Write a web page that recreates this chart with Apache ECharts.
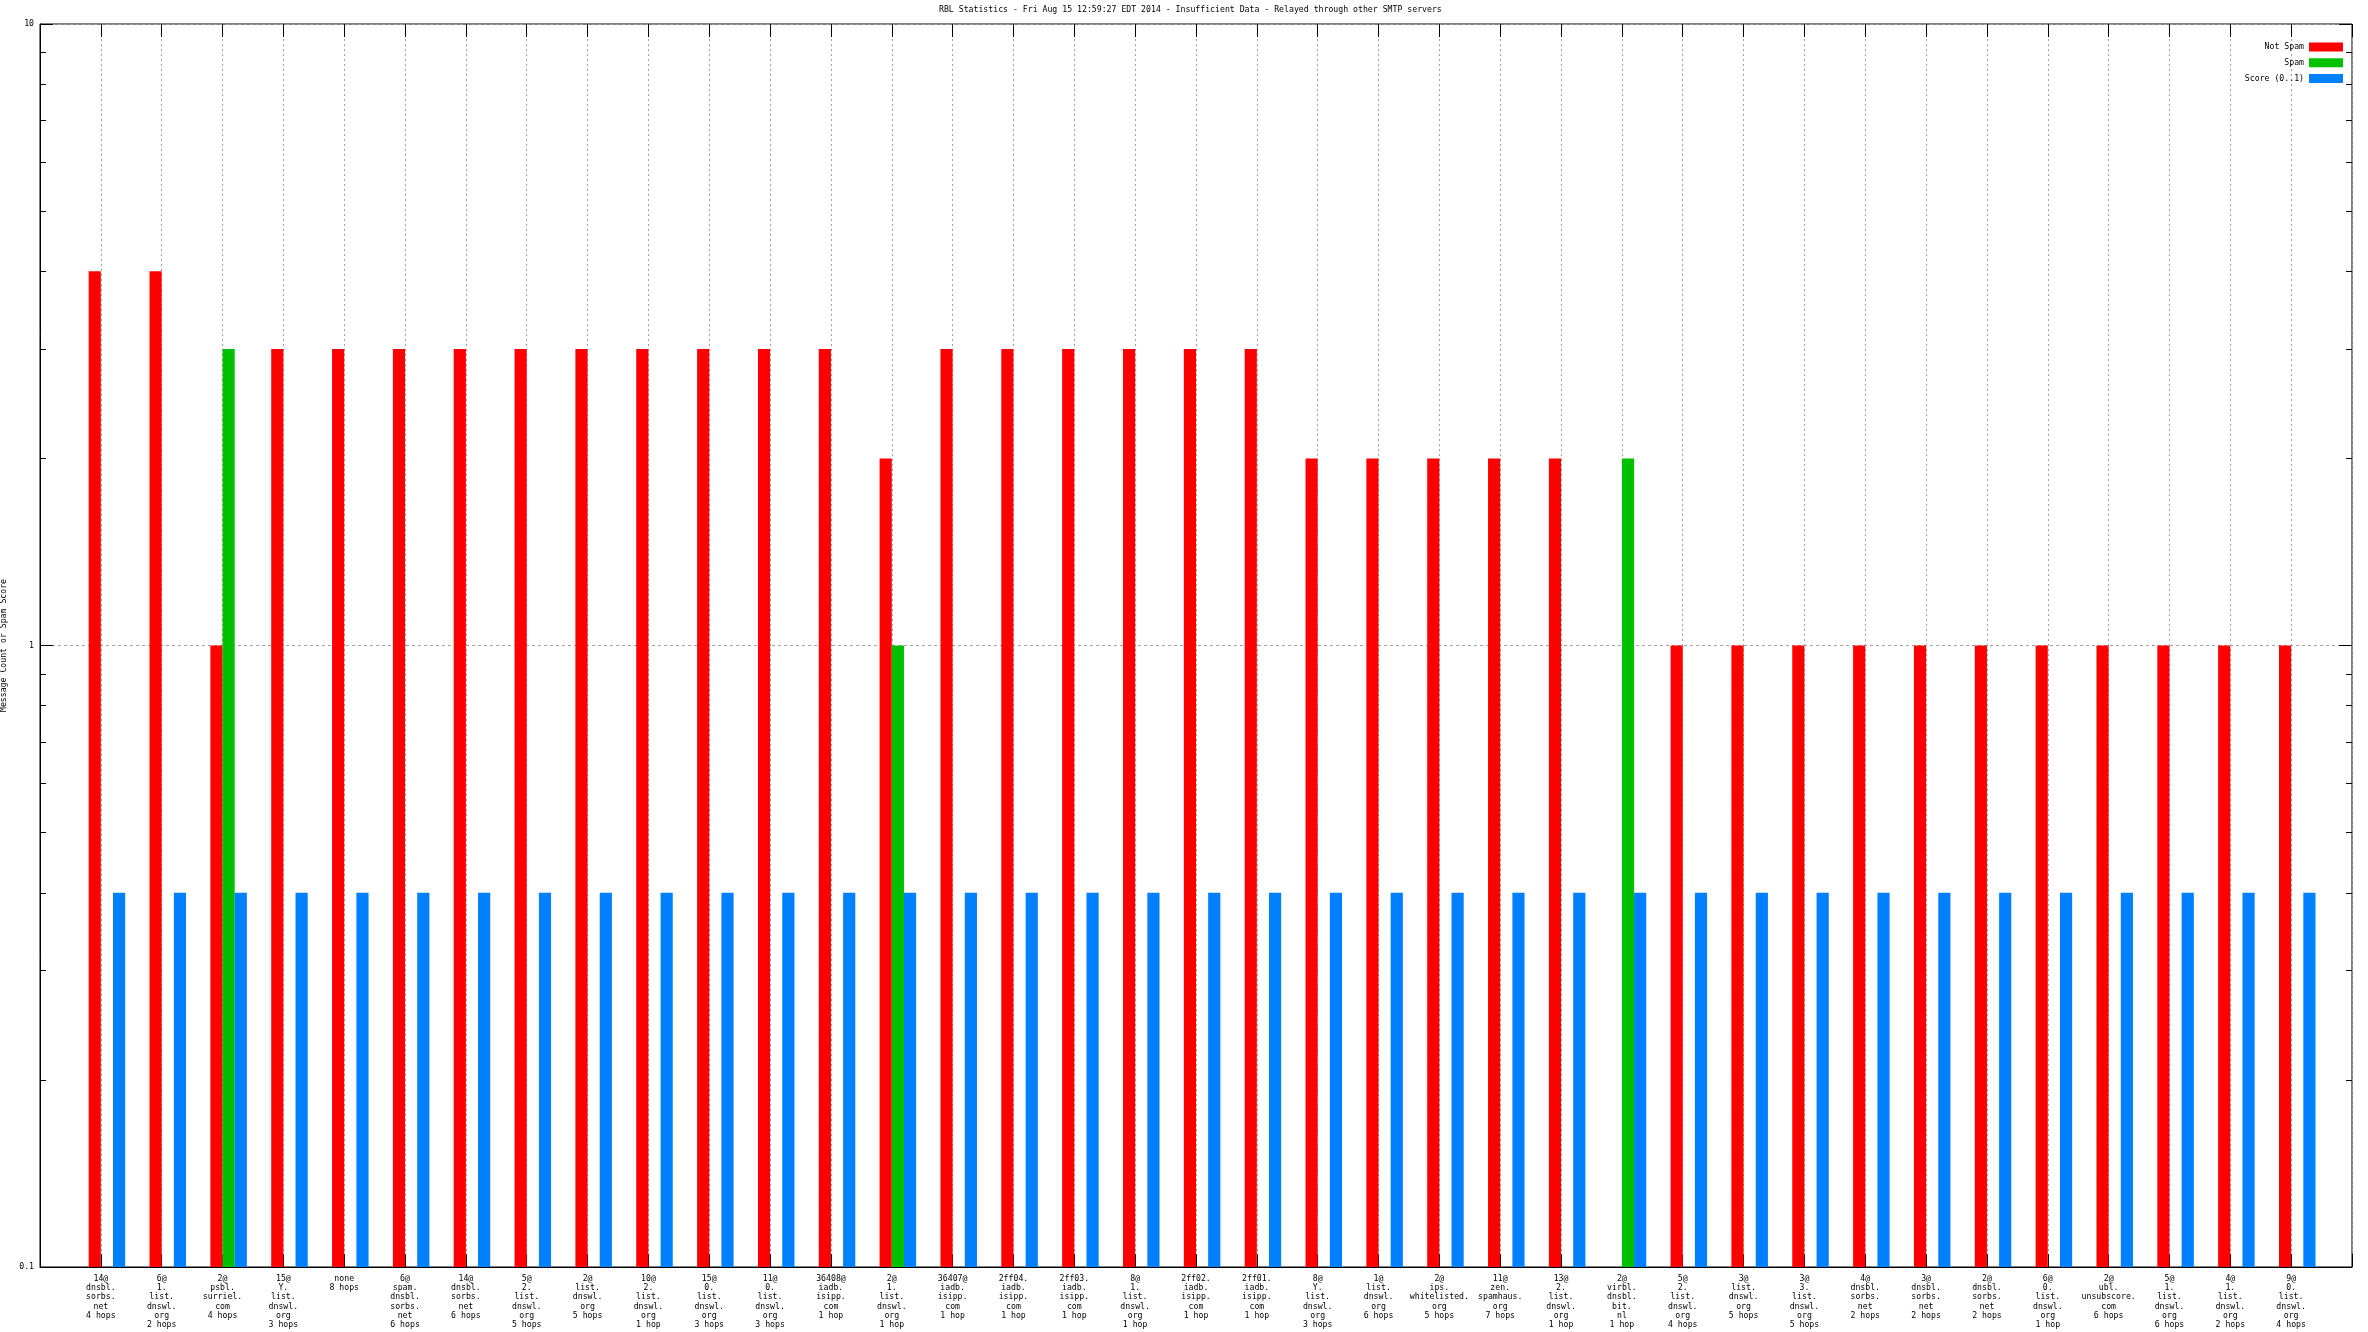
<!DOCTYPE html>
<html><head><meta charset="utf-8">
<script src="https://cdn.jsdelivr.net/npm/echarts@6/dist/echarts.min.js"></script>
<style>html,body{margin:0;padding:0;background:#fff}#c{width:2368px;height:1332px}</style>
</head><body><div id="c"></div>
<script>
const titleText = 'RBL Statistics - Fri Aug 15 12:59:27 EDT 2014 - Insufficient Data - Relayed through other SMTP servers';
const yAxisName = 'Message Count or Spam Score';
const seriesNames = ['Not Spam', 'Spam', 'Score (0..1)'];
const seriesColors = ['#ff0000', '#00c000', '#0080ff'];
const categories = [
  '14@\ndnsbl.\nsorbs.\nnet\n4 hops',
  '6@\n1.\nlist.\ndnswl.\norg\n2 hops',
  '2@\npsbl.\nsurriel.\ncom\n4 hops',
  '15@\nY.\nlist.\ndnswl.\norg\n3 hops',
  'none\n8 hops',
  '6@\nspam.\ndnsbl.\nsorbs.\nnet\n6 hops',
  '14@\ndnsbl.\nsorbs.\nnet\n6 hops',
  '5@\n2.\nlist.\ndnswl.\norg\n5 hops',
  '2@\nlist.\ndnswl.\norg\n5 hops',
  '10@\n2.\nlist.\ndnswl.\norg\n1 hop',
  '15@\n0.\nlist.\ndnswl.\norg\n3 hops',
  '11@\n0.\nlist.\ndnswl.\norg\n3 hops',
  '36408@\niadb.\nisipp.\ncom\n1 hop',
  '2@\n1.\nlist.\ndnswl.\norg\n1 hop',
  '36407@\niadb.\nisipp.\ncom\n1 hop',
  '2ff04.\niadb.\nisipp.\ncom\n1 hop',
  '2ff03.\niadb.\nisipp.\ncom\n1 hop',
  '8@\n1.\nlist.\ndnswl.\norg\n1 hop',
  '2ff02.\niadb.\nisipp.\ncom\n1 hop',
  '2ff01.\niadb.\nisipp.\ncom\n1 hop',
  '8@\nY.\nlist.\ndnswl.\norg\n3 hops',
  '1@\nlist.\ndnswl.\norg\n6 hops',
  '2@\nips.\nwhitelisted.\norg\n5 hops',
  '11@\nzen.\nspamhaus.\norg\n7 hops',
  '13@\n2.\nlist.\ndnswl.\norg\n1 hop',
  '2@\nvirbl.\ndnsbl.\nbit.\nnl\n1 hop',
  '5@\n2.\nlist.\ndnswl.\norg\n4 hops',
  '3@\nlist.\ndnswl.\norg\n5 hops',
  '3@\n3.\nlist.\ndnswl.\norg\n5 hops',
  '4@\ndnsbl.\nsorbs.\nnet\n2 hops',
  '3@\ndnsbl.\nsorbs.\nnet\n2 hops',
  '2@\ndnsbl.\nsorbs.\nnet\n2 hops',
  '6@\n0.\nlist.\ndnswl.\norg\n1 hop',
  '2@\nubl.\nunsubscore.\ncom\n6 hops',
  '5@\n1.\nlist.\ndnswl.\norg\n6 hops',
  '4@\n1.\nlist.\ndnswl.\norg\n2 hops',
  '9@\n0.\nlist.\ndnswl.\norg\n4 hops'
];
const notSpam = [4, 4, 1, 3, 3, 3, 3, 3, 3, 3, 3, 3, 3, 2, 3, 3, 3, 3, 3, 3, 2, 2, 2, 2, 2, null, 1, 1, 1, 1, 1, 1, 1, 1, 1, 1, 1];
const spam = [null, null, 3, null, null, null, null, null, null, null, null, null, null, 1, null, null, null, null, null, null, null, null, null, null, null, 2, null, null, null, null, null, null, null, null, null, null, null];
const score = [0.4, 0.4, 0.4, 0.4, 0.4, 0.4, 0.4, 0.4, 0.4, 0.4, 0.4, 0.4, 0.4, 0.4, 0.4, 0.4, 0.4, 0.4, 0.4, 0.4, 0.4, 0.4, 0.4, 0.4, 0.4, 0.4, 0.4, 0.4, 0.4, 0.4, 0.4, 0.4, 0.4, 0.4, 0.4, 0.4, 0.4];
const yTickValues = [0.1, 1, 10];
const yTickLabels = ['0.1', '1', '10'];
const yMinorTicks = [0.2, 0.3, 0.4, 0.5, 0.6, 0.7, 0.8, 0.9, 2, 3, 4, 5, 6, 7, 8, 9];

const FONT = 'DejaVu Sans Mono';
const FS = 8.2;
// pad one empty slot each side (gnuplot xrange [-1:37])
const xCats = [''].concat(categories, ['']);
const pad = arr => ['-'].concat(arr.map(v => v == null ? '-' : v), ['-']);

function yAx(pos, values, len, main) {
  return {
    type: 'log', logBase: 10, min: 0.1, max: 10, startValue: 0.1, position: pos,
    axisLine: { show: main, lineStyle: { color: '#000', width: 1 } },
    axisTick: { show: true, inside: true, length: len, customValues: values, lineStyle: { color: '#000', width: 1 } },
    axisLabel: main && pos === 'left' ? {
      show: true, customValues: yTickValues, margin: 6, fontSize: FS, fontFamily: FONT, color: '#000',
      formatter: v => { const i = yTickValues.findIndex(t => Math.abs(t - v) < 1e-9 * Math.max(1, t)); return i >= 0 ? yTickLabels[i] : ''; }
    } : { show: false },
    splitLine: { show: main && pos === 'left', lineStyle: { color: '#a0a0a0', width: 1, type: [3, 3] } },
    name: main && pos === 'left' ? yAxisName : '',
    nameLocation: 'middle', nameRotate: 90, nameGap: 22,
    nameTextStyle: { fontSize: FS, fontFamily: FONT, color: '#000' }
  };
}

const chart = echarts.init(document.getElementById('c'), null, { renderer: 'canvas' });
chart.setOption({
  animation: false,
  backgroundColor: '#fff',
  title: {
    text: titleText, left: 939, top: 6, padding: 0,
    textStyle: { fontSize: FS, fontWeight: 'normal', fontFamily: FONT, color: '#000' }
  },
  legend: {
    data: seriesNames, orient: 'vertical', right: 25, top: 42, align: 'right', padding: 0,
    itemWidth: 34, itemHeight: 9, itemGap: 5.8, icon: 'rect', selectedMode: false,
    textStyle: { fontSize: FS, fontFamily: FONT, color: '#000', lineHeight: 10 }
  },
  grid: { left: 40, top: 24, right: 16, bottom: 65, outerBoundsMode: 'none', containLabel: false, show: true, borderColor: '#000', borderWidth: 1, backgroundColor: 'transparent' },
  xAxis: [
    {
      type: 'category', data: xCats, boundaryGap: false, position: 'bottom',
      axisLine: { lineStyle: { color: '#000', width: 1 } },
      axisTick: { inside: true, length: 13, lineStyle: { color: '#000' } },
      axisLabel: { interval: 0, fontSize: FS, lineHeight: 9.3, fontFamily: FONT, color: '#000', margin: 7 },
      splitLine: { show: true, interval: 0, lineStyle: { color: '#a0a0a0', width: 1, type: [2, 3] } }
    },
    {
      type: 'category', data: xCats, boundaryGap: false, position: 'top',
      axisLine: { show: false },
      axisTick: { inside: true, length: 13, interval: 0, lineStyle: { color: '#000' } },
      axisLabel: { show: false }, splitLine: { show: false }
    }
  ],
  yAxis: [
    yAx('left', yTickValues, 13, true),
    yAx('left', yMinorTicks, 6, false),
    yAx('right', yTickValues, 13, false),
    yAx('right', yMinorTicks, 6, false)
  ],
  series: [
    { type: 'bar', name: '_offset', data: pad(categories.map(() => null)), barWidth: '20%', barGap: '0%', silent: true },
    { type: 'bar', name: seriesNames[0], data: pad(notSpam), itemStyle: { color: seriesColors[0] }, barWidth: '20%', barGap: '0%' },
    { type: 'bar', name: seriesNames[1], data: pad(spam), itemStyle: { color: seriesColors[1] }, barWidth: '20%', barGap: '0%' },
    { type: 'bar', name: seriesNames[2], data: pad(score), itemStyle: { color: seriesColors[2] }, barWidth: '20%', barGap: '0%' }
  ]
});
</script>
</body></html>
